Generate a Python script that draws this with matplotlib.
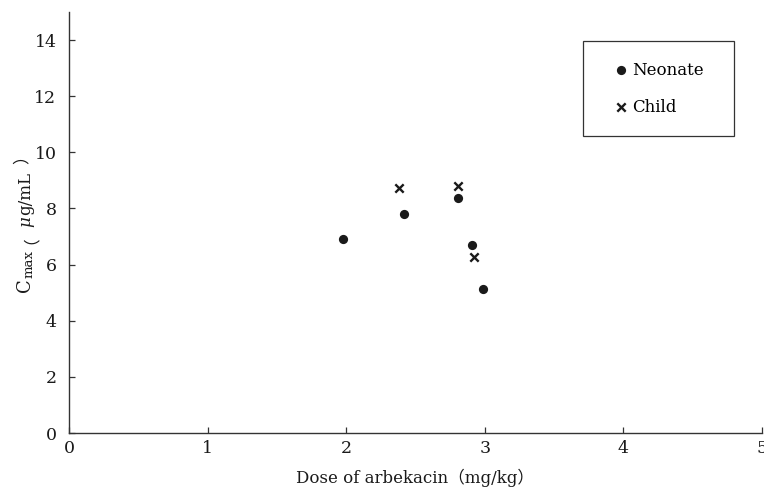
import matplotlib
matplotlib.use("Agg")
import matplotlib.pyplot as plt
from matplotlib.patches import Rectangle

neonate_dose = [1.98, 2.42, 2.81, 2.91, 2.99]
neonate_cmax = [6.92, 7.81, 8.38, 6.71, 5.13]
child_dose = [2.38, 2.81, 2.92]
child_cmax = [8.74, 8.80, 6.26]
xticks = [0, 1, 2, 3, 4, 5]
yticks = [0, 2, 4, 6, 8, 10, 12, 14]

SERIF = "DejaVu Serif"
CJK = "Noto Sans CJK JP"
FS = 12
plt.rcParams["font.family"] = [SERIF, CJK]

W, H = 764, 488
fig = plt.figure(figsize=(W/100, H/100), dpi=100)
ax = fig.add_axes([69/W, 1-433/H, (762-69)/W, (433-12)/H])

ax.scatter(neonate_dose, neonate_cmax, marker="o", s=44, color="#1a1a1a",
           linewidths=0, label="Neonate", zorder=3)
ax.scatter(child_dose, child_cmax, marker="x", s=36, color="#1a1a1a",
           linewidths=1.7, label="Child", zorder=3)

ax.set_xlim(0, 5)
ax.set_ylim(0, 15)
ax.set_xticks(xticks)
ax.set_yticks(yticks)
for s in ["top", "right"]:
    ax.spines[s].set_visible(False)
for s in ["left", "bottom"]:
    ax.spines[s].set_color("#333333")
    ax.spines[s].set_linewidth(1.0)
ax.tick_params(direction="in", length=4, width=0.9, color="#333333",
               labelsize=12.5, labelcolor="#1a1a1a")
ax.tick_params(axis="x", pad=5)
ax.tick_params(axis="y", pad=9)

ax.set_xlabel("Dose of arbekacin（mg/kg）", fontsize=FS, color="#1a1a1a", labelpad=8.5)

# Legend (frame drawn separately)
leg = ax.legend(loc="upper left", bbox_to_anchor=((583-69)/693, (433-41)/421),
                frameon=False, fontsize=FS, handletextpad=-0.3,
                labelspacing=1.2, borderpad=1.25, handlelength=2.0,
                borderaxespad=0)
fig.add_artist(Rectangle((583/W, 1-136/H), (734-583)/W, (136-41)/H,
                         transform=fig.transFigure, fill=False,
                         edgecolor="#333333", linewidth=0.9))

# y label built from pieces stacked vertically (rotated)
fig.canvas.draw()
renderer = fig.canvas.get_renderer()
# text, style, family, size, baseline shift (px, positive = lower), gap after (px)
pieces = [("C", "normal", [SERIF], 13, 0, 0.5),
          ("max", "normal", [SERIF], 9.5, 3, 6),
          ("（", "normal", [CJK], FS, -3, 0.5),
          ("μ", "italic", [SERIF], FS, 0, 0.5),
          ("g/mL", "normal", [SERIF], FS, 0, 8),
          ("）", "normal", [CJK], FS, -3, 0)]
xb = 30
ypix = 292
for txt, style, fam, size, shift, gap in pieces:
    t = fig.text((xb + shift) / W, 1 - ypix / H, txt, rotation=90,
                 rotation_mode="anchor", ha="left", va="baseline",
                 fontsize=size, style=style, family=fam, color="#1a1a1a")
    bb = t.get_window_extent(renderer)
    ypix -= bb.height + gap

fig.savefig("out.png", dpi=100)
